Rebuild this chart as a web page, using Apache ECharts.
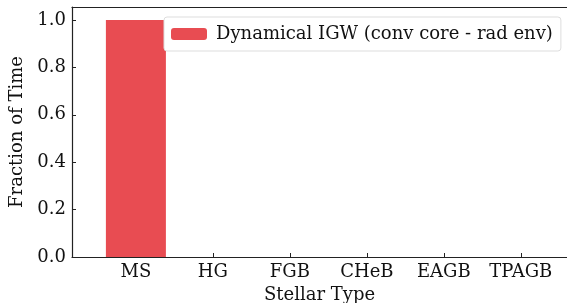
<!DOCTYPE html>
<html>
<head>
<meta charset="utf-8">
<script src="https://cdn.jsdelivr.net/npm/echarts@6/dist/echarts.min.js"></script>
<style>
  html, body { margin: 0; padding: 0; background: #fff; }
  #chart { width: 567px; height: 303px; }
</style>
</head>
<body>
<div id="chart"></div>
<script>
const STELLAR_TYPES = ["MS", "HG", "FGB", "CHeB", "EAGB", "TPAGB"];
const FRACTION = [1.0, 0, 0, 0, 0, 0];
const SERIES_NAME = "Dynamical IGW (conv core - rad env)";
const Y_TICKS = [0, 0.2, 0.4, 0.6, 0.8, 1.0];

const FONT = "DejaVu Serif";
const X_MIN = -0.83, X_MAX = 5.6;
const chart = echarts.init(document.getElementById("chart"));

chart.setOption({
  animation: false,
  textStyle: { fontFamily: FONT },
  grid: { left: 72, right: 0, top: 7, bottom: 46, containLabel: false, outerBoundsMode: "none" },
  legend: {
    data: [SERIES_NAME],
    left: 164, top: 17,
    padding: [8, 8, 8, 7],
    borderColor: "#ddd", borderWidth: 1, borderRadius: 3,
    backgroundColor: "#fff",
    itemWidth: 36, itemHeight: 12, itemGap: 10,
    itemStyle: { borderWidth: 0 },
    textStyle: { fontFamily: FONT, fontSize: 18, color: "#111", padding: [0, 0, 0, 4] }
  },
  xAxis: [{
    type: "value",
    min: X_MIN, max: X_MAX,
    name: "Stellar Type", nameLocation: "middle", nameGap: 29,
    nameTextStyle: { fontFamily: FONT, fontSize: 18, color: "#111" },
    axisLine: { show: true, onZero: false, lineStyle: { color: "#222", width: 1.2 } },
    axisTick: { show: true, inside: true, length: 4, customValues: STELLAR_TYPES.map((_, i) => i), lineStyle: { color: "#222" } },
    axisLabel: {
      customValues: STELLAR_TYPES.map((_, i) => i),
      formatter: v => STELLAR_TYPES[Math.round(v)] || "",
      fontFamily: FONT, fontSize: 18, color: "#111", margin: 6
    },
    splitLine: { show: false }
  }, {
    type: "value", position: "top",
    min: X_MIN, max: X_MAX,
    axisLine: { show: true, onZero: false, lineStyle: { color: "#222", width: 1.2 } },
    axisTick: { show: false }, axisLabel: { show: false }, splitLine: { show: false }
  }],
  yAxis: {
    type: "value",
    min: 0, max: 1.055,
    name: "Fraction of Time", nameLocation: "middle", nameGap: 45,
    nameTextStyle: { fontFamily: FONT, fontSize: 18, color: "#111" },
    axisLine: { show: true, onZero: false, lineStyle: { color: "#222", width: 1.2 } },
    axisTick: { show: true, inside: true, length: 4, customValues: Y_TICKS, lineStyle: { color: "#222" } },
    axisLabel: {
      customValues: Y_TICKS,
      formatter: v => v.toFixed(1),
      fontFamily: FONT, fontSize: 18, color: "#111", margin: 6
    },
    splitLine: { show: false }
  },
  series: [{
    name: SERIES_NAME,
    type: "bar",
    xAxisIndex: 0,
    data: FRACTION.map((v, i) => [i, v]),
    barWidth: 60,
    itemStyle: { color: "#e84c52" }
  }]
});
</script>
</body>
</html>
